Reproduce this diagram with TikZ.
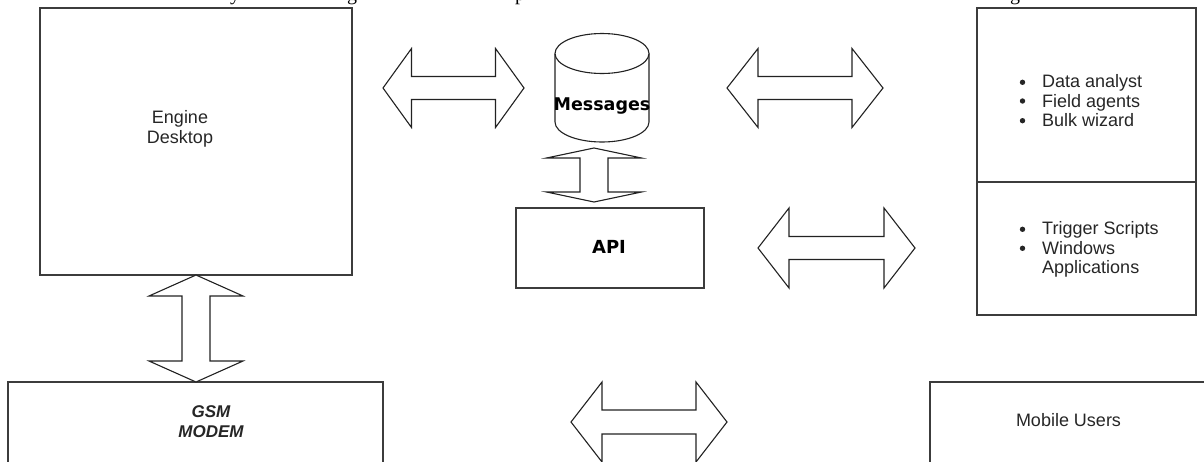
\documentclass[tikz,border=0pt]{standalone}
\usepackage{fontspec}
\setmainfont{Liberation Serif}
\newfontfamily\arialf{Liberation Sans}
\newfontfamily\dejaf{DejaVu Sans}
\definecolor{boxgray}{HTML}{3C3C3C}
\definecolor{arrowink}{HTML}{222222}
\definecolor{txt}{HTML}{262626}

\tikzset{
  box/.style={draw=boxgray, line width=1.3pt, rectangle, inner sep=0pt, outer sep=0pt},
  arrowline/.style={draw=arrowink, line width=1.1pt, line join=miter, fill=white},
  sanslabel/.style={font=\arialf\fontsize{18}{19.4}\selectfont, text=txt, inner sep=0pt},
  boldlabel/.style={font=\dejaf\bfseries\fontsize{17.5}{20}\selectfont, text=black, inner sep=0pt},
  bullet/.style={fill=txt},
  % double-headed block arrow, lying along x, centred on the pic origin
  % #1 half length, #2 head length, #3 head half width, #4 shaft half width
  pics/biarrow/.style n args={4}{code={
    \draw[arrowline]
      (-#1,0) -- (-#1+#2,-#3) -- (-#1+#2,-#4) -- (#1-#2,-#4) -- (#1-#2,-#3)
      -- (#1,0) -- (#1-#2,#3) -- (#1-#2,#4) -- (-#1+#2,#4) -- (-#1+#2,#3) -- cycle;
  }},
}

\begin{document}
\begin{tikzpicture}[x=1pt, y=-1pt]
\useasboundingbox (0,0) rectangle (1204,461);

% descenders of the text line running above the diagram
\begin{scope}
  \clip (0,0) rectangle (1204,461);
  \node[anchor=base, inner sep=0pt, font=\fontsize{20}{22}\selectfont] (frag1) at (235,0.5) {y};
  \node[anchor=base, inner sep=0pt, font=\fontsize{20}{22}\selectfont] (frag2) at (352,0.5) {g};
  \node[anchor=base, inner sep=0pt, font=\fontsize{20}{22}\selectfont] (frag3) at (520,0.5) {p};
  \node[anchor=base, inner sep=0pt, font=\fontsize{20}{22}\selectfont] (frag4) at (1015,0.5) {g};
\end{scope}

% boxes
\node[box, minimum width=312pt, minimum height=267pt] (eng) at (196,141.5) {};
\node[box, minimum width=375pt, minimum height=110pt] (gsm) at (195.5,437) {};
\node[box, minimum width=188pt, minimum height=80pt] (api) at (610,248) {};
\node[box, minimum width=219pt, minimum height=174pt] (users) at (1086.5,95) {};
\node[box, minimum width=219pt, minimum height=133pt] (apps) at (1086.5,248.5) {};
\node[box, minimum width=300pt, minimum height=110pt] (mobile) at (1080,437) {};

% message store
\draw[draw=arrowink, line width=1.1pt]
  (555,53.5) -- (555,122) arc[start angle=180, end angle=0, x radius=47, y radius=20] -- (649,53.5);
\draw[draw=arrowink, line width=1.1pt, fill=white] (602,53.5) ellipse[x radius=47, y radius=20];

% labels
\node[sanslabel, align=center] (englbl) at (180,128.7) {Engine\\Desktop};
\node[sanslabel, align=center, font=\arialf\bfseries\itshape\fontsize{17}{20.4}\selectfont] (gsmlbl) at (211,421.4) {GSM\\MODEM};
\node[boldlabel, anchor=base] (msg) at (602,110) {Messages};
\node[boldlabel, anchor=base, font=\dejaf\bfseries\fontsize{18}{20}\selectfont] (apilbl) at (609,253.3) {API};
\node[sanslabel, anchor=base] (mobilelbl) at (1068.5,426.7) {Mobile Users};

% bullet lists
\node[sanslabel, anchor=north west, align=left, font=\arialf\fontsize{18}{19.2}\selectfont] (list1) at (1042,74.6)
  {Data analyst\\Field agents\\Bulk wizard};
\node[sanslabel, anchor=north west, align=left, font=\arialf\fontsize{18}{19.5}\selectfont] (list2) at (1042,221.6)
  {Trigger Scripts\\Windows\\Applications};
\foreach \yy in {82.3,101,120.7,229.3,248.3} \fill[bullet] (1022.5,\yy) circle[radius=2.7];

% block arrows
\pic (a1) at (453.5,88) {biarrow={70.5}{28.5}{39.5}{11.5}};
\pic (a2) at (805,88) {biarrow={78}{31}{39.5}{11.5}};
\pic (a3) at (836.5,248) {biarrow={78.5}{31}{40}{11.5}};
\pic (a4) at (649,422) {biarrow={78}{31}{40}{12}};
\pic[rotate=90] (v1) at (196,328.5) {biarrow={53.5}{21}{47}{14}};
\pic[rotate=90] (v2) at (594,175) {biarrow={27}{10}{47.5}{14}};
\end{tikzpicture}
\end{document}
